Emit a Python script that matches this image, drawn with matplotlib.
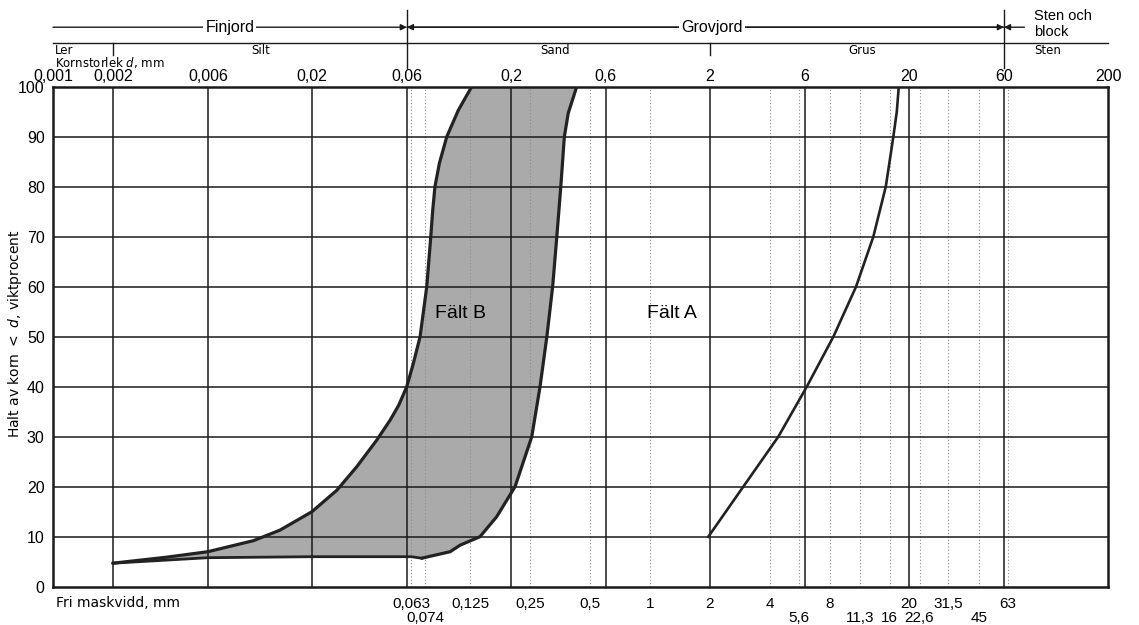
import matplotlib.pyplot as plt
from matplotlib.patches import Polygon

plt.rcParams['font.family'] = ['Liberation Sans', 'DejaVu Sans']

# Fält B, left boundary (grain size mm, passing %)
left_x = [0.002, 0.00372, 0.006, 0.01015, 0.0138, 0.02, 0.0267, 0.0336, 0.0423, 0.0494, 0.0546,
          0.0599, 0.0647, 0.0699, 0.0755, 0.0791, 0.0808, 0.0830, 0.0874, 0.0952, 0.1088, 0.127]
left_y = [4.7, 5.9, 7.0, 9.2, 11.3, 15, 19.3, 24, 29.3, 33.3, 36.3,
          40, 44.7, 50, 60, 70, 75, 80, 84.7, 90, 95.3, 100]
# Fält B, right boundary
right_x = [0.0712, 0.099, 0.111, 0.1398, 0.1696, 0.2097, 0.2545, 0.280, 0.303, 0.324, 0.340,
           0.356, 0.371, 0.388, 0.428]
right_y = [5.7, 7, 8.3, 10, 14, 20, 30, 40, 50, 60, 70, 80, 90, 94.7, 100]
# Fält B, lower boundary
bottom_x = [0.002, 0.006, 0.02, 0.063, 0.0712]
bottom_y = [4.7, 5.8, 6.0, 6.0, 5.7]
# Fält A boundary
field_a_x = [1.963, 2.94, 4.41, 6.13, 8.34, 10.84, 13.24, 15.29, 16.69, 17.37, 17.77]
field_a_y = [10, 20, 30, 40, 50, 60, 70, 80, 90, 95, 100]

top_ticks = [0.001, 0.002, 0.006, 0.02, 0.06, 0.2, 0.6, 2, 6, 20, 60, 200]
sieve_row1 = [0.063, 0.125, 0.25, 0.5, 1, 2, 4, 8, 20, 31.5, 63]
sieve_row2 = [0.074, 5.6, 11.3, 16, 22.6, 45]
sieve_dotted = [0.063, 0.074, 0.125, 0.25, 0.5, 1, 4, 5.6, 8, 11.3, 16, 22.6, 31.5, 45, 63]


def sv(v):
    return str(v).replace('.', ',')


fig = plt.figure(figsize=(11.39, 6.25), dpi=100)
ax = fig.add_axes([53 / 1139, 38.3 / 625, 1055 / 1139, 500 / 625])
ax.set_xscale('log')
ax.set_xlim(0.001, 200)
ax.set_ylim(0, 100)

# grid
for v in top_ticks[1:-1]:
    ax.axvline(v, color='#1a1a1a', lw=1.1, zorder=2)
for v in range(10, 100, 10):
    ax.axhline(v, color='#1a1a1a', lw=1.1, zorder=2)
for v in sieve_dotted:
    ax.axvline(v, color='#8a8a8a', lw=0.8, ls=(0, (1, 2)), zorder=1)

for s in ax.spines.values():
    s.set_linewidth(1.8)
    s.set_color('#1a1a1a')

ax.set_yticks(range(0, 101, 10))
ax.tick_params(axis='y', length=0, pad=6, labelsize=11.5)
ax.set_xticks([])
ax.xaxis.set_minor_locator(plt.NullLocator())

# shaded field B
poly_x = left_x + right_x[::-1] + bottom_x[::-1]
poly_y = left_y + right_y[::-1] + bottom_y[::-1]
ax.add_patch(Polygon(list(zip(poly_x, poly_y)), closed=True, facecolor='#8a8a8a',
                     alpha=0.72, edgecolor='none', zorder=1))

ax.plot(left_x, left_y, color='#222222', lw=2.3, zorder=3, solid_capstyle='round')
ax.plot(right_x, right_y, color='#222222', lw=2.3, zorder=3, solid_capstyle='round')
ax.plot(bottom_x, bottom_y, color='#222222', lw=2.0, zorder=3)
ax.plot(field_a_x, field_a_y, color='#222222', lw=1.9, zorder=3)

ax.text(0.111, 54.7, 'Fält B', fontsize=14, ha='center', va='center', zorder=4)
ax.text(1.29, 54.7, 'Fält A', fontsize=14, ha='center', va='center', zorder=4)

tr = ax.get_xaxis_transform()
narrow = ['Liberation Sans Narrow', 'Liberation Sans', 'DejaVu Sans']
wide = ['DejaVu Sans']

# top tick labels
for v in top_ticks:
    ax.text(v, 1.021, sv(v), transform=tr, fontsize=11.5, ha='center', va='center', clip_on=False)

# bottom sieve labels
for v in sieve_row1:
    ax.text(v, -0.034, sv(v), transform=tr, fontsize=11, family=narrow,
            ha='center', va='center', clip_on=False)
for v in sieve_row2:
    ax.text(v, -0.062, sv(v), transform=tr, fontsize=11, family=narrow,
            ha='center', va='center', clip_on=False)
ax.text(0.00104, -0.033, 'Fri maskvidd, mm', transform=tr, fontsize=10, family=wide,
        ha='left', va='center', clip_on=False)

# header lines
y1, y2 = 1.119, 1.087
ax.plot([0.001, 200], [y2, y2], transform=tr, color='#1a1a1a', lw=1.0, clip_on=False)
arrow = dict(arrowstyle='-|>', lw=1.0, color='#1a1a1a', shrinkA=0, shrinkB=0, mutation_scale=9)
ax.annotate('', xy=(0.06, y1), xytext=(0.001, y1), xycoords=tr, textcoords=tr, arrowprops=arrow)
ax.annotate('', xy=(0.06, y1), xytext=(60, y1), xycoords=tr, textcoords=tr, arrowprops=arrow)
ax.annotate('', xy=(60, y1), xytext=(0.06, y1), xycoords=tr, textcoords=tr, arrowprops=arrow)
ax.annotate('', xy=(60, y1), xytext=(76, y1), xycoords=tr, textcoords=tr, arrowprops=arrow)
for v in [0.06, 60]:
    ax.plot([v, v], [1.037, 1.153], transform=tr, color='#1a1a1a', lw=1.0, clip_on=False)
for v in [0.002, 2]:
    ax.plot([v, v], [1.064, y2], transform=tr, color='#1a1a1a', lw=1.0, clip_on=False)

box = dict(facecolor='white', edgecolor='none', pad=1.5)
ax.text(0.00774, y1, 'Finjord', transform=tr, fontsize=11.5, ha='center', va='center', bbox=box, clip_on=False)
ax.text(2.05, y1, 'Grovjord', transform=tr, fontsize=11.5, ha='center', va='center', bbox=box, clip_on=False)
ax.text(85, 1.141, 'Sten och', transform=tr, fontsize=10.5, ha='left', va='center', clip_on=False)
ax.text(85, 1.109, 'block', transform=tr, fontsize=10.5, ha='left', va='center', clip_on=False)

ax.text(0.00102, 1.073, 'Ler', transform=tr, fontsize=8.5, family=wide, ha='left', va='center', clip_on=False)
ax.text(0.011, 1.073, 'Silt', transform=tr, fontsize=8.5, family=wide, ha='center', va='center', clip_on=False)
ax.text(0.333, 1.073, 'Sand', transform=tr, fontsize=8.5, family=wide, ha='center', va='center', clip_on=False)
ax.text(11.6, 1.073, 'Grus', transform=tr, fontsize=8.5, family=wide, ha='center', va='center', clip_on=False)
ax.text(85, 1.073, 'Sten', transform=tr, fontsize=8.5, family=wide, ha='left', va='center', clip_on=False)
ax.text(0.00102, 1.049, 'Kornstorlek $d$, mm', transform=tr, fontsize=8.5, family=wide,
        ha='left', va='center', clip_on=False)

fig.text(15 / 1139, 1 - 334 / 625, 'Halt av korn $<$ $d$, viktprocent', rotation=90,
         fontsize=10, family=wide, ha='center', va='center')

fig.savefig('out.png', dpi=100)
